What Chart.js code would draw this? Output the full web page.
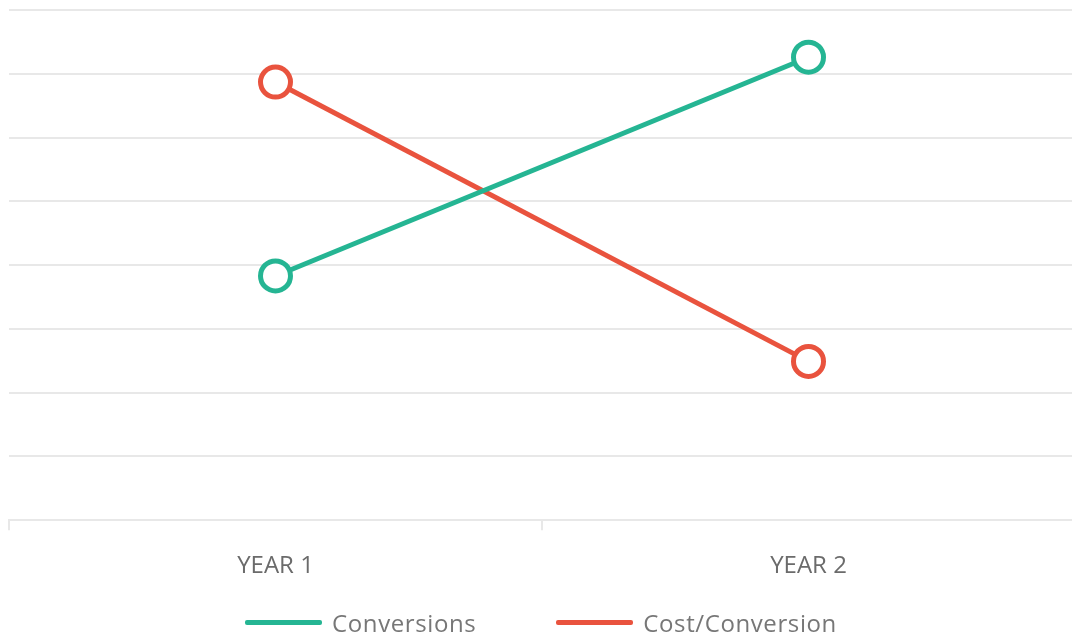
<!DOCTYPE html>
<html>
<head>
<meta charset="utf-8">
<script src="https://cdn.jsdelivr.net/npm/chart.js@4"></script>
<style>
  html, body { margin: 0; padding: 0; background: #fff; overflow: hidden; }
  #page { position: relative; width: 1072px; height: 641px; overflow: hidden; }
  #lineChart { position: absolute; left: -11px; top: -10px; }
  #legend {
    position: absolute; left: 0; top: 606px; width: 1082px;
    display: flex; justify-content: center; align-items: center;
    font-family: 'Open Sans', sans-serif; font-size: 24px; color: #777; letter-spacing: 0.6px;
  }
  .item { display: flex; align-items: center; margin: 0 40px; }
  .swatch { width: 77px; height: 5px; border-radius: 2px; margin-right: 10px; }
</style>
</head>
<body>
<div id="page">
  <canvas id="lineChart" width="1106" height="674"></canvas>
  <div id="legend"></div>
</div>
<script>
// chart data
const years = ["YEAR 1", "YEAR 2"];
const conversions = [3.83, 7.26];
const costPerConversion = [6.87, 2.49];

const green = "#25b593";
const red = "#e9533e";
const gridColor = "#e8e8e8";

function buildLegend(datasets) {
    const legend = document.getElementById("legend");
    legend.innerHTML = '';
    datasets.forEach(ds => {
        const item = document.createElement("div");
        item.className = "item";
        item.innerHTML = `<span class="swatch" style="background:${ds.borderColor}"></span><span>${ds.label}</span>`;
        legend.appendChild(item);
    });
}

const datasets = [
    {
        label: "Conversions",
        data: conversions,
        borderColor: green,
        backgroundColor: "#fff",
        pointBorderColor: green,
        pointBackgroundColor: "#fff"
    },
    {
        label: "Cost/Conversion",
        data: costPerConversion,
        borderColor: red,
        backgroundColor: "#fff",
        pointBorderColor: red,
        pointBackgroundColor: "#fff"
    }
];

new Chart(document.getElementById("lineChart").getContext("2d"), {
    type: "line",
    data: { labels: years, datasets: datasets },
    options: {
        responsive: false,
        animation: false,
        clip: false,
        // point overflow (radius + border) sets the side padding
        layout: { padding: { top: 0, left: 0, right: 0, bottom: 61 } },
        elements: {
            line: { borderWidth: 5, tension: 0 },
            point: { radius: 15, borderWidth: 5, hoverRadius: 15 }
        },
        plugins: { legend: { display: false }, tooltip: { enabled: false } },
        scales: {
            x: {
                offset: true,
                grid: { offset: true, drawOnChartArea: false, tickLength: 10, color: gridColor, lineWidth: 2 },
                border: { color: gridColor, width: 2 },
                ticks: { padding: 22, color: "#6b6b6b", font: { family: "'Open Sans'", size: 24 } }
            },
            y: {
                min: 0,
                max: 8,
                ticks: { display: false, stepSize: 1 },
                grid: { drawTicks: false, color: gridColor, lineWidth: 2 },
                border: { display: false }
            }
        }
    }
});

buildLegend(datasets);
</script>
</body>
</html>
